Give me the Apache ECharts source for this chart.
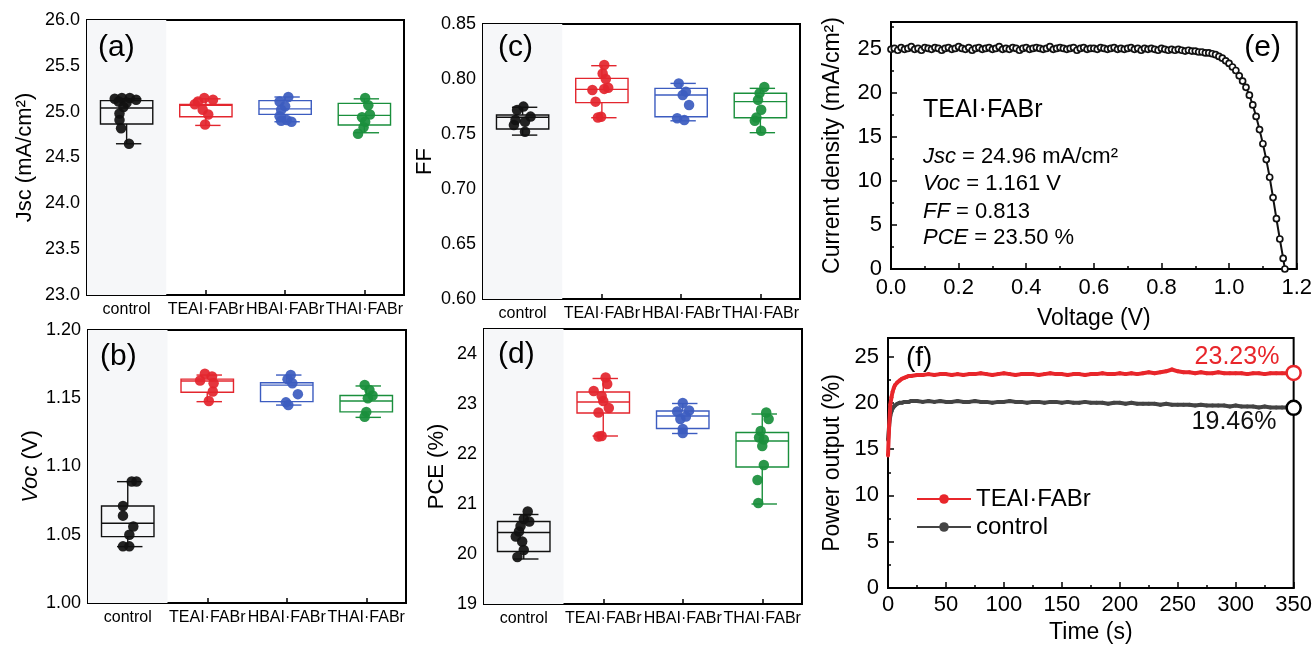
<!DOCTYPE html>
<html><head><meta charset="utf-8">
<script src="https://cdn.jsdelivr.net/npm/echarts@6/dist/echarts.min.js"></script>
<style>html,body{margin:0;padding:0;background:#fff}#c{width:1315px;height:646px}</style>
</head><body><div id="c"></div><script>
// ---------- data ----------
const categories = ['control', 'TEAI·FABr', 'HBAI·FABr', 'THAI·FABr'];
const catColors = ['#111111', '#e3262e', '#3c5cc0', '#1a8f3c'];

// box stats: [min, q1, median, q3, max] per category
const jscBox = [[24.65, 24.865, 25.04, 25.12, 25.14], [24.85, 24.945, 25.07, 25.08, 25.14], [24.89, 24.97, 25.03, 25.12, 25.16], [24.77, 24.855, 24.96, 25.09, 25.14]];
const vocBox = [[1.0413, 1.0486, 1.0584, 1.0711, 1.0889], [1.1475, 1.1544, 1.1626, 1.164, 1.167], [1.145, 1.1475, 1.1596, 1.1614, 1.167], [1.136, 1.140, 1.148, 1.152, 1.159]];
const ffBox = [[0.749, 0.7545, 0.7652, 0.7673, 0.7743], [0.7648, 0.7785, 0.7906, 0.8006, 0.8121], [0.762, 0.7657, 0.7855, 0.7915, 0.796], [0.7512, 0.7648, 0.7794, 0.787, 0.7915]];
const pceBox = [[19.90, 20.05, 20.43, 20.65, 20.79], [22.36, 22.82, 23.04, 23.24, 23.51], [22.41, 22.51, 22.76, 22.86, 23.01], [21.0, 21.74, 22.26, 22.43, 22.80]];

// individual devices: [horizontal jitter (category units), value]
const jscPoints = [
  [[-0.15, 25.14], [-0.06, 25.15], [0.04, 25.15], [0.12, 25.13], [-0.10, 25.11], [0.0, 25.10], [-0.04, 25.05], [-0.09, 24.98], [-0.09, 24.91], [-0.07, 24.82], [0.03, 24.65]],
  [[-0.02, 25.15], [-0.10, 25.11], [0.09, 25.13], [-0.14, 25.08], [-0.04, 25.02], [0.03, 24.97], [-0.01, 24.86]],
  [[0.04, 25.16], [-0.07, 25.11], [0.0, 25.06], [-0.05, 25.02], [-0.07, 24.95], [0.02, 24.91], [0.08, 24.89], [-0.05, 24.90]],
  [[0.01, 25.15], [0.05, 25.07], [0.07, 24.97], [-0.03, 24.94], [0.01, 24.89], [-0.01, 24.83], [-0.08, 24.76]]
];
const vocPoints = [
  [[0.05, 1.089], [0.11, 1.089], [-0.06, 1.071], [-0.06, 1.064], [0.07, 1.056], [0.02, 1.050], [-0.06, 1.0415], [0.02, 1.0415]],
  [[-0.03, 1.168], [0.06, 1.166], [-0.09, 1.163], [0.08, 1.161], [0.07, 1.155], [0.02, 1.148]],
  [[0.05, 1.167], [0.01, 1.164], [0.07, 1.161], [0.14, 1.153], [-0.01, 1.147], [0.02, 1.145]],
  [[-0.02, 1.1597], [0.04, 1.156], [0.08, 1.152], [0.02, 1.150], [0.0, 1.140], [-0.02, 1.1365]]
];
const ffPoints = [
  [[0.01, 0.7749], [-0.07, 0.7718], [0.10, 0.7658], [-0.09, 0.7627], [0.03, 0.7612], [-0.11, 0.7582], [0.03, 0.7521]],
  [[0.03, 0.8127], [0.01, 0.805], [0.05, 0.800], [-0.12, 0.790], [0.03, 0.791], [0.08, 0.792], [-0.08, 0.7794], [-0.01, 0.7657], [-0.05, 0.765]],
  [[-0.03, 0.796], [0.06, 0.7885], [0.02, 0.7855], [0.10, 0.7764], [-0.05, 0.7643], [0.04, 0.7627]],
  [[0.05, 0.7927], [-0.01, 0.787], [-0.03, 0.781], [0.01, 0.772], [-0.05, 0.765], [-0.07, 0.762], [0.01, 0.753]]
];
const pcePoints = [
  [[0.05, 20.85], [0.07, 20.65], [0.0, 20.70], [-0.04, 20.56], [-0.06, 20.45], [-0.10, 20.35], [-0.02, 20.25], [0.0, 20.08], [-0.08, 19.94]],
  [[0.03, 23.53], [0.05, 23.40], [-0.12, 23.26], [-0.02, 23.16], [0.0, 23.06], [0.07, 22.92], [-0.06, 22.83], [-0.02, 22.36], [-0.06, 22.35]],
  [[0.0, 23.02], [-0.07, 22.85], [0.08, 22.87], [0.04, 22.75], [-0.03, 22.70], [0.0, 22.50], [0.0, 22.42]],
  [[0.05, 22.83], [0.08, 22.70], [-0.02, 22.46], [-0.04, 22.33], [0.02, 22.29], [0.0, 22.16], [0.02, 21.78], [-0.06, 21.48], [-0.05, 21.02]]
];

// J-V curve (e)
const jvVoltage = [
  0.00, 0.01, 0.02, 0.03, 0.04, 0.05, 0.06, 0.07, 0.08, 0.09,
  0.10, 0.11, 0.12, 0.13, 0.14, 0.15, 0.16, 0.17, 0.18, 0.19,
  0.20, 0.21, 0.22, 0.23, 0.24, 0.25, 0.26, 0.27, 0.28, 0.29,
  0.30, 0.31, 0.32, 0.33, 0.34, 0.35, 0.36, 0.37, 0.38, 0.39,
  0.40, 0.41, 0.42, 0.43, 0.44, 0.45, 0.46, 0.47, 0.48, 0.49,
  0.50, 0.51, 0.52, 0.53, 0.54, 0.55, 0.56, 0.57, 0.58, 0.59,
  0.60, 0.61, 0.62, 0.63, 0.64, 0.65, 0.66, 0.67, 0.68, 0.69,
  0.70, 0.71, 0.72, 0.73, 0.74, 0.75, 0.76, 0.77, 0.78, 0.79,
  0.80, 0.81, 0.82, 0.83, 0.84, 0.85, 0.86, 0.87, 0.88, 0.89,
  0.90, 0.91, 0.92, 0.93, 0.94, 0.95, 0.96, 0.97, 0.98, 0.99,
  1.00, 1.01, 1.02, 1.03, 1.04, 1.05, 1.06, 1.07, 1.08, 1.09,
  1.10, 1.11, 1.12, 1.13, 1.14, 1.15, 1.16, 1.165
];
const jvCurrent = [
  24.9, 25.0, 24.8, 25.1, 24.9, 25.0, 25.2, 24.9, 25.0, 24.8,
  25.1, 25.0, 24.9, 25.1, 25.0, 24.8, 25.0, 25.1, 24.9, 25.0,
  25.2, 25.0, 24.9, 25.1, 24.8, 25.0, 25.1, 24.9, 25.0, 25.1,
  24.9, 25.0, 25.2, 24.9, 25.0, 24.9, 25.1, 25.0, 24.8, 25.0,
  25.1, 24.9, 25.0, 25.1, 25.0, 24.9, 25.0, 25.2, 24.9, 25.0,
  25.1, 25.0, 24.9, 25.0, 25.1, 24.8, 25.0, 25.1, 24.9, 25.0,
  25.0, 24.9, 25.1, 25.0, 24.9, 25.0, 25.1, 24.9, 25.0, 24.9,
  25.0, 25.1, 24.9, 25.0, 24.8, 25.0, 24.9, 25.0, 24.9, 24.8,
  25.0, 24.9, 24.8, 24.9, 24.8, 24.9, 24.8, 24.7, 24.8, 24.7,
  24.7, 24.6, 24.6, 24.5, 24.5, 24.4, 24.3, 24.1, 23.9, 23.6,
  23.3, 22.9, 22.5, 21.9, 21.3, 20.6, 19.7, 18.6, 17.3, 15.8,
  14.2, 12.4, 10.4, 8.1, 5.7, 3.4, 1.2, 0.0
];
const jvParams = { device: 'TEAI·FABr', jsc: '24.96', voc: '1.161', ff: '0.813', pce: '23.50' };

// steady-state power output (f)
const timeS = [0, 1, 2, 3, 4, 5, 6, 8, 10, 12, 14, 16, 18, 20,
  25, 30, 35, 40, 45, 50, 55, 60, 65, 70, 75, 80, 85, 90, 95, 100, 105, 110, 115, 120,
  125, 130, 135, 140, 145, 150, 155, 160, 165, 170, 175, 180, 185, 190, 195, 200, 205, 210,
  215, 220, 225, 230, 235, 240, 245, 250, 255, 260, 265, 270, 275, 280, 285, 290, 295, 300,
  305, 310, 315, 320, 325, 330, 335, 340, 345, 350];
const powerTEAI = [14.3, 17.5, 19.8, 20.6, 21.2, 21.6, 21.9, 22.2, 22.4, 22.6, 22.7, 22.8, 22.9, 22.9,
  23.0, 23.0, 23.1, 23.0, 23.1, 23.1, 23.0, 23.1, 23.0, 23.1,
  23.1, 23.2, 23.1, 23.0, 23.1, 23.2, 23.1, 23.0, 23.1, 23.1,
  23.1, 23.0, 23.1, 23.2, 23.1, 23.1, 23.0, 23.1, 23.1, 23.0,
  23.1, 23.1, 23.2, 23.1, 23.1, 23.2, 23.1, 23.2, 23.1, 23.2,
  23.3, 23.2, 23.3, 23.4, 23.6, 23.4, 23.3, 23.3, 23.2, 23.3,
  23.2, 23.2, 23.3, 23.2, 23.2, 23.2, 23.2, 23.1, 23.2, 23.2,
  23.1, 23.2, 23.2, 23.2, 23.2, 23.23];
const powerControl = [16.0, 17.6, 18.6, 19.1, 19.4, 19.6, 19.7, 19.9, 20.0, 20.0, 20.1, 20.1, 20.1, 20.2,
  20.2, 20.1, 20.2, 20.1, 20.2, 20.1, 20.1, 20.2, 20.1, 20.1,
  20.2, 20.1, 20.1, 20.0, 20.1, 20.1, 20.2, 20.1, 20.1, 20.0,
  20.1, 20.1, 20.0, 20.1, 20.1, 20.0, 20.1, 20.0, 20.0, 20.1,
  20.0, 20.0, 20.0, 19.9, 20.0, 20.0, 19.9, 20.0, 19.9, 19.9,
  19.9, 19.9, 19.8, 19.9, 19.8, 19.8, 19.8, 19.8, 19.7, 19.8,
  19.7, 19.7, 19.7, 19.7, 19.6, 19.7, 19.6, 19.6, 19.6, 19.5,
  19.6, 19.5, 19.5, 19.5, 19.5, 19.46];
const stableTEAI = 23.23, stableControl = 19.46;

// ---------- chart ----------
const FONT = '"Liberation Sans", Arial, sans-serif';
const chart = echarts.init(document.getElementById('c'), null, { renderer: 'canvas' });

const grids = [
  { left: 87, top: 20, width: 317, height: 275 },
  { left: 88, top: 330, width: 318, height: 273 },
  { left: 483, top: 24, width: 317, height: 275 },
  { left: 484, top: 329, width: 318, height: 275 },
  { left: 891, top: 22, width: 406, height: 247 },
  { left: 888, top: 338, width: 407, height: 250 }
].map(g => Object.assign({ show: true, borderColor: '#000', borderWidth: 2, backgroundColor: 'transparent' }, g));

const boxPanels = [
  { box: jscBox, pts: jscPoints, min: 23, max: 26, interval: 0.5, dec: 1, name: 'Jsc (mA/cm²)', gap: 51 },
  { box: vocBox, pts: vocPoints, min: 1.0, max: 1.2, interval: 0.05, dec: 2, name: '{i|Voc} (V)', gap: 45 },
  { box: ffBox, pts: ffPoints, min: 0.6, max: 0.85, interval: 0.05, dec: 2, name: 'FF', gap: 47 },
  { box: pceBox, pts: pcePoints, min: 19, max: 24.5, interval: 1, dec: 0, name: 'PCE (%)', gap: 36 }
];

const xAxes = [], yAxes = [], series = [];
const lineBlack = { show: true, lineStyle: { color: '#000', width: 2 } };

function renderBox(params, api) {
  const i = api.value(0);
  const cx = api.coord([i, api.value(3)])[0];
  const band = api.size([1, 0])[0];
  const bw = band * 0.66, cw = band * 0.32;
  const y = k => api.coord([i, api.value(k)])[1];
  const yMin = y(1), yQ1 = y(2), yMed = y(3), yQ3 = y(4), yMax = y(5);
  const st = { stroke: catColors[i], lineWidth: 1.4, fill: null };
  return {
    type: 'group', children: [
      { type: 'rect', shape: { x: cx - bw / 2, y: yQ3, width: bw, height: yQ1 - yQ3 }, style: { stroke: catColors[i], lineWidth: 1.4, fill: 'rgba(0,0,0,0)' } },
      { type: 'line', shape: { x1: cx - bw / 2, y1: yMed, x2: cx + bw / 2, y2: yMed }, style: st },
      { type: 'line', shape: { x1: cx, y1: yQ3, x2: cx, y2: yMax }, style: st },
      { type: 'line', shape: { x1: cx, y1: yQ1, x2: cx, y2: yMin }, style: st },
      { type: 'line', shape: { x1: cx - cw / 2 + 2, y1: yMax, x2: cx + cw / 2 + 2, y2: yMax }, style: st },
      { type: 'line', shape: { x1: cx - cw / 2 + 2, y1: yMin, x2: cx + cw / 2 + 2, y2: yMin }, style: st }
    ]
  };
}

boxPanels.forEach((p, g) => {
  const catIdx = xAxes.length;
  xAxes.push({
    gridIndex: g, type: 'category', data: categories, boundaryGap: true,
    axisLine: lineBlack, axisTick: { show: true, inside: true, alignWithLabel: true, length: 5, lineStyle: { color: '#000', width: 1.5 } },
    axisLabel: { color: '#000', fontSize: 16, fontFamily: FONT, margin: 7, interval: 0 },
    splitLine: { show: false }
  });
  const valIdx = xAxes.length;
  xAxes.push({ gridIndex: g, type: 'value', min: -0.5, max: 3.5, show: false, splitLine: { show: false } });
  yAxes.push({
    gridIndex: g, type: 'value', min: p.min, max: p.max, interval: p.interval,
    name: p.name, nameLocation: 'middle', nameGap: p.gap,
    nameTextStyle: { color: '#000', fontSize: 22, fontFamily: FONT, rich: { i: { fontStyle: 'italic', fontSize: 22, fontFamily: FONT, color: '#000' } } },
    axisLine: lineBlack,
    axisTick: { show: true, inside: true, length: 6, lineStyle: { color: '#000', width: 1.5 } },
    minorTick: { show: true, splitNumber: 2, length: 3, lineStyle: { color: '#000', width: 1.5 } },
    axisLabel: { color: '#000', fontSize: 18, fontFamily: FONT, margin: 7, showMaxLabel: p.dec !== 0, formatter: v => v.toFixed(p.dec) },
    splitLine: { show: false }
  });
  series.push({
    type: 'custom', name: 'box' + g, xAxisIndex: catIdx, yAxisIndex: g, z: 2, silent: true,
    renderItem: renderBox,
    encode: { x: 0, y: [1, 2, 3, 4, 5] },
    data: p.box.map((b, i) => [i].concat(b))
  });
  const pts = [];
  p.pts.forEach((arr, i) => arr.forEach(([dx, v]) => pts.push({ value: [i + dx, v], itemStyle: { color: catColors[i] } })));
  series.push({
    type: 'scatter', name: 'pts' + g, xAxisIndex: valIdx, yAxisIndex: g, z: 3, silent: true,
    symbolSize: 10.5, itemStyle: { opacity: 0.93 }, data: pts,
    markArea: { silent: true, itemStyle: { color: '#f6f7f9', opacity: 1, borderWidth: 0 }, data: [[{ xAxis: -0.5 }, { xAxis: 0.5 }]] }
  });
});

// (e) J-V
xAxes.push({
  gridIndex: 4, type: 'value', min: 0, max: 1.2, interval: 0.2,
  name: 'Voltage (V)', nameLocation: 'middle', nameGap: 38,
  nameTextStyle: { color: '#000', fontSize: 23, fontFamily: FONT },
  axisLine: lineBlack,
  axisTick: { show: true, inside: true, length: 6, lineStyle: { color: '#000', width: 1.5 } },
  minorTick: { show: true, splitNumber: 2, length: 3, lineStyle: { color: '#000', width: 1.5 } },
  axisLabel: { color: '#000', fontSize: 22, fontFamily: FONT, margin: 8, formatter: v => v.toFixed(1) },
  splitLine: { show: false }
});
yAxes.push({
  gridIndex: 4, type: 'value', min: 0, max: 28, interval: 5,
  name: 'Current density (mA/cm²)', nameLocation: 'middle', nameGap: 47,
  nameTextStyle: { color: '#000', fontSize: 23, fontFamily: FONT },
  axisLine: lineBlack,
  axisTick: { show: true, inside: true, length: 6, lineStyle: { color: '#000', width: 1.5 } },
  minorTick: { show: true, splitNumber: 2, length: 3, lineStyle: { color: '#000', width: 1.5 } },
  axisLabel: { color: '#000', fontSize: 22, fontFamily: FONT, margin: 9, showMaxLabel: false },
  splitLine: { show: false }
});
series.push({
  type: 'line', name: 'JV', xAxisIndex: xAxes.length - 1, yAxisIndex: 4, silent: true,
  data: jvVoltage.map((v, k) => [v, jvCurrent[k]]),
  symbol: 'circle', symbolSize: 6, showSymbol: true,
  itemStyle: { color: '#fff', borderColor: '#111', borderWidth: 1.7 },
  lineStyle: { color: '#111', width: 2 }
});

// (f) steady-state
xAxes.push({
  gridIndex: 5, type: 'value', min: 0, max: 350, interval: 50,
  name: 'Time (s)', nameLocation: 'middle', nameGap: 33,
  nameTextStyle: { color: '#000', fontSize: 23, fontFamily: FONT },
  axisLine: lineBlack,
  axisTick: { show: true, inside: true, length: 6, lineStyle: { color: '#000', width: 1.5 } },
  minorTick: { show: true, splitNumber: 2, length: 3, lineStyle: { color: '#000', width: 1.5 } },
  axisLabel: { color: '#000', fontSize: 22, fontFamily: FONT, margin: 6 },
  splitLine: { show: false }
});
yAxes.push({
  gridIndex: 5, type: 'value', min: 0, max: 27, interval: 5,
  name: 'Power output (%)', nameLocation: 'middle', nameGap: 44,
  nameTextStyle: { color: '#000', fontSize: 23, fontFamily: FONT },
  axisLine: lineBlack,
  axisTick: { show: true, inside: true, length: 6, lineStyle: { color: '#000', width: 1.5 } },
  minorTick: { show: true, splitNumber: 2, length: 3, lineStyle: { color: '#000', width: 1.5 } },
  axisLabel: { color: '#000', fontSize: 22, fontFamily: FONT, margin: 9, showMaxLabel: false },
  splitLine: { show: false }
});
const fx = xAxes.length - 1;
series.push({
  type: 'line', name: 'control', xAxisIndex: fx, yAxisIndex: 5, silent: true, z: 3,
  data: timeS.map((t, k) => [t, powerControl[k]]),
  symbol: 'circle', symbolSize: 4, showSymbol: true,
  itemStyle: { color: '#444' }, lineStyle: { color: '#444', width: 4 }
});
series.push({
  type: 'line', name: 'TEAI·FABr', xAxisIndex: fx, yAxisIndex: 5, silent: true, z: 4,
  data: timeS.map((t, k) => [t, powerTEAI[k]]),
  symbol: 'circle', symbolSize: 4, showSymbol: true,
  itemStyle: { color: '#e8262b' }, lineStyle: { color: '#e8262b', width: 4 }
});
const endLabel = (color, dy, dist) => ({
  show: true, position: 'left', distance: dist, offset: [0, dy], color: color, opacity: 1,
  textBorderWidth: 0, fontSize: 25, fontFamily: FONT, formatter: p => p.value[1].toFixed(2) + '%'
});
series.push({
  type: 'scatter', name: 'endTEAI', xAxisIndex: fx, yAxisIndex: 5, silent: true, z: 6,
  data: [[timeS[timeS.length - 1], stableTEAI]], symbol: 'circle', symbolSize: 14,
  itemStyle: { color: '#fff', borderColor: '#e8262b', borderWidth: 2.5, opacity: 1 },
  label: endLabel('#e8262b', -16, 6)
});
series.push({
  type: 'scatter', name: 'endControl', xAxisIndex: fx, yAxisIndex: 5, silent: true, z: 6,
  data: [[timeS[timeS.length - 1], stableControl]], symbol: 'circle', symbolSize: 14,
  itemStyle: { color: '#fff', borderColor: '#000', borderWidth: 2.5, opacity: 1 },
  label: endLabel('#111', 14, 9)
});

function lbl(text, x, y, size, align) {
  return { type: 'text', x: x, y: y, z: 100, silent: true, style: { text: text, fontSize: size || 30, fontFamily: FONT, fill: '#000', align: align || 'left', verticalAlign: 'middle' } };
}
function rtxt(text, x, y) {
  return { type: 'text', x: x, y: y, z: 100, silent: true, style: { text: text, fontSize: 22, fontFamily: FONT, fill: '#000', verticalAlign: 'middle', rich: { i: { fontStyle: 'italic', fontSize: 22, fontFamily: FONT, fill: '#000' } } } };
}

chart.setOption({
  animation: false,
  backgroundColor: '#fff',
  grid: grids,
  xAxis: xAxes,
  yAxis: yAxes,
  legend: {
    data: ['TEAI·FABr', 'control'], orient: 'vertical', left: 911, top: 482,
    itemWidth: 54, itemHeight: 12, itemGap: 4, selectedMode: false,
    textStyle: { color: '#000', fontSize: 24, fontFamily: FONT }
  },
  graphic: [
    lbl('(a)', 98, 48), lbl('(b)', 100, 357), lbl('(c)', 498, 48), lbl('(d)', 498, 355),
    lbl('(e)', 1281, 48, 30, 'right'), lbl('(f)', 906, 358, 28),
    lbl(jvParams.device, 923, 110, 25),
    rtxt('{i|Jsc} = ' + jvParams.jsc + ' mA/cm²', 923, 157),
    rtxt('{i|Voc} = ' + jvParams.voc + ' V', 923, 184),
    rtxt('{i|FF} = ' + jvParams.ff, 923, 212),
    rtxt('{i|PCE} = ' + jvParams.pce + ' %', 923, 238)
  ],
  series: series
});
</script></body></html>
